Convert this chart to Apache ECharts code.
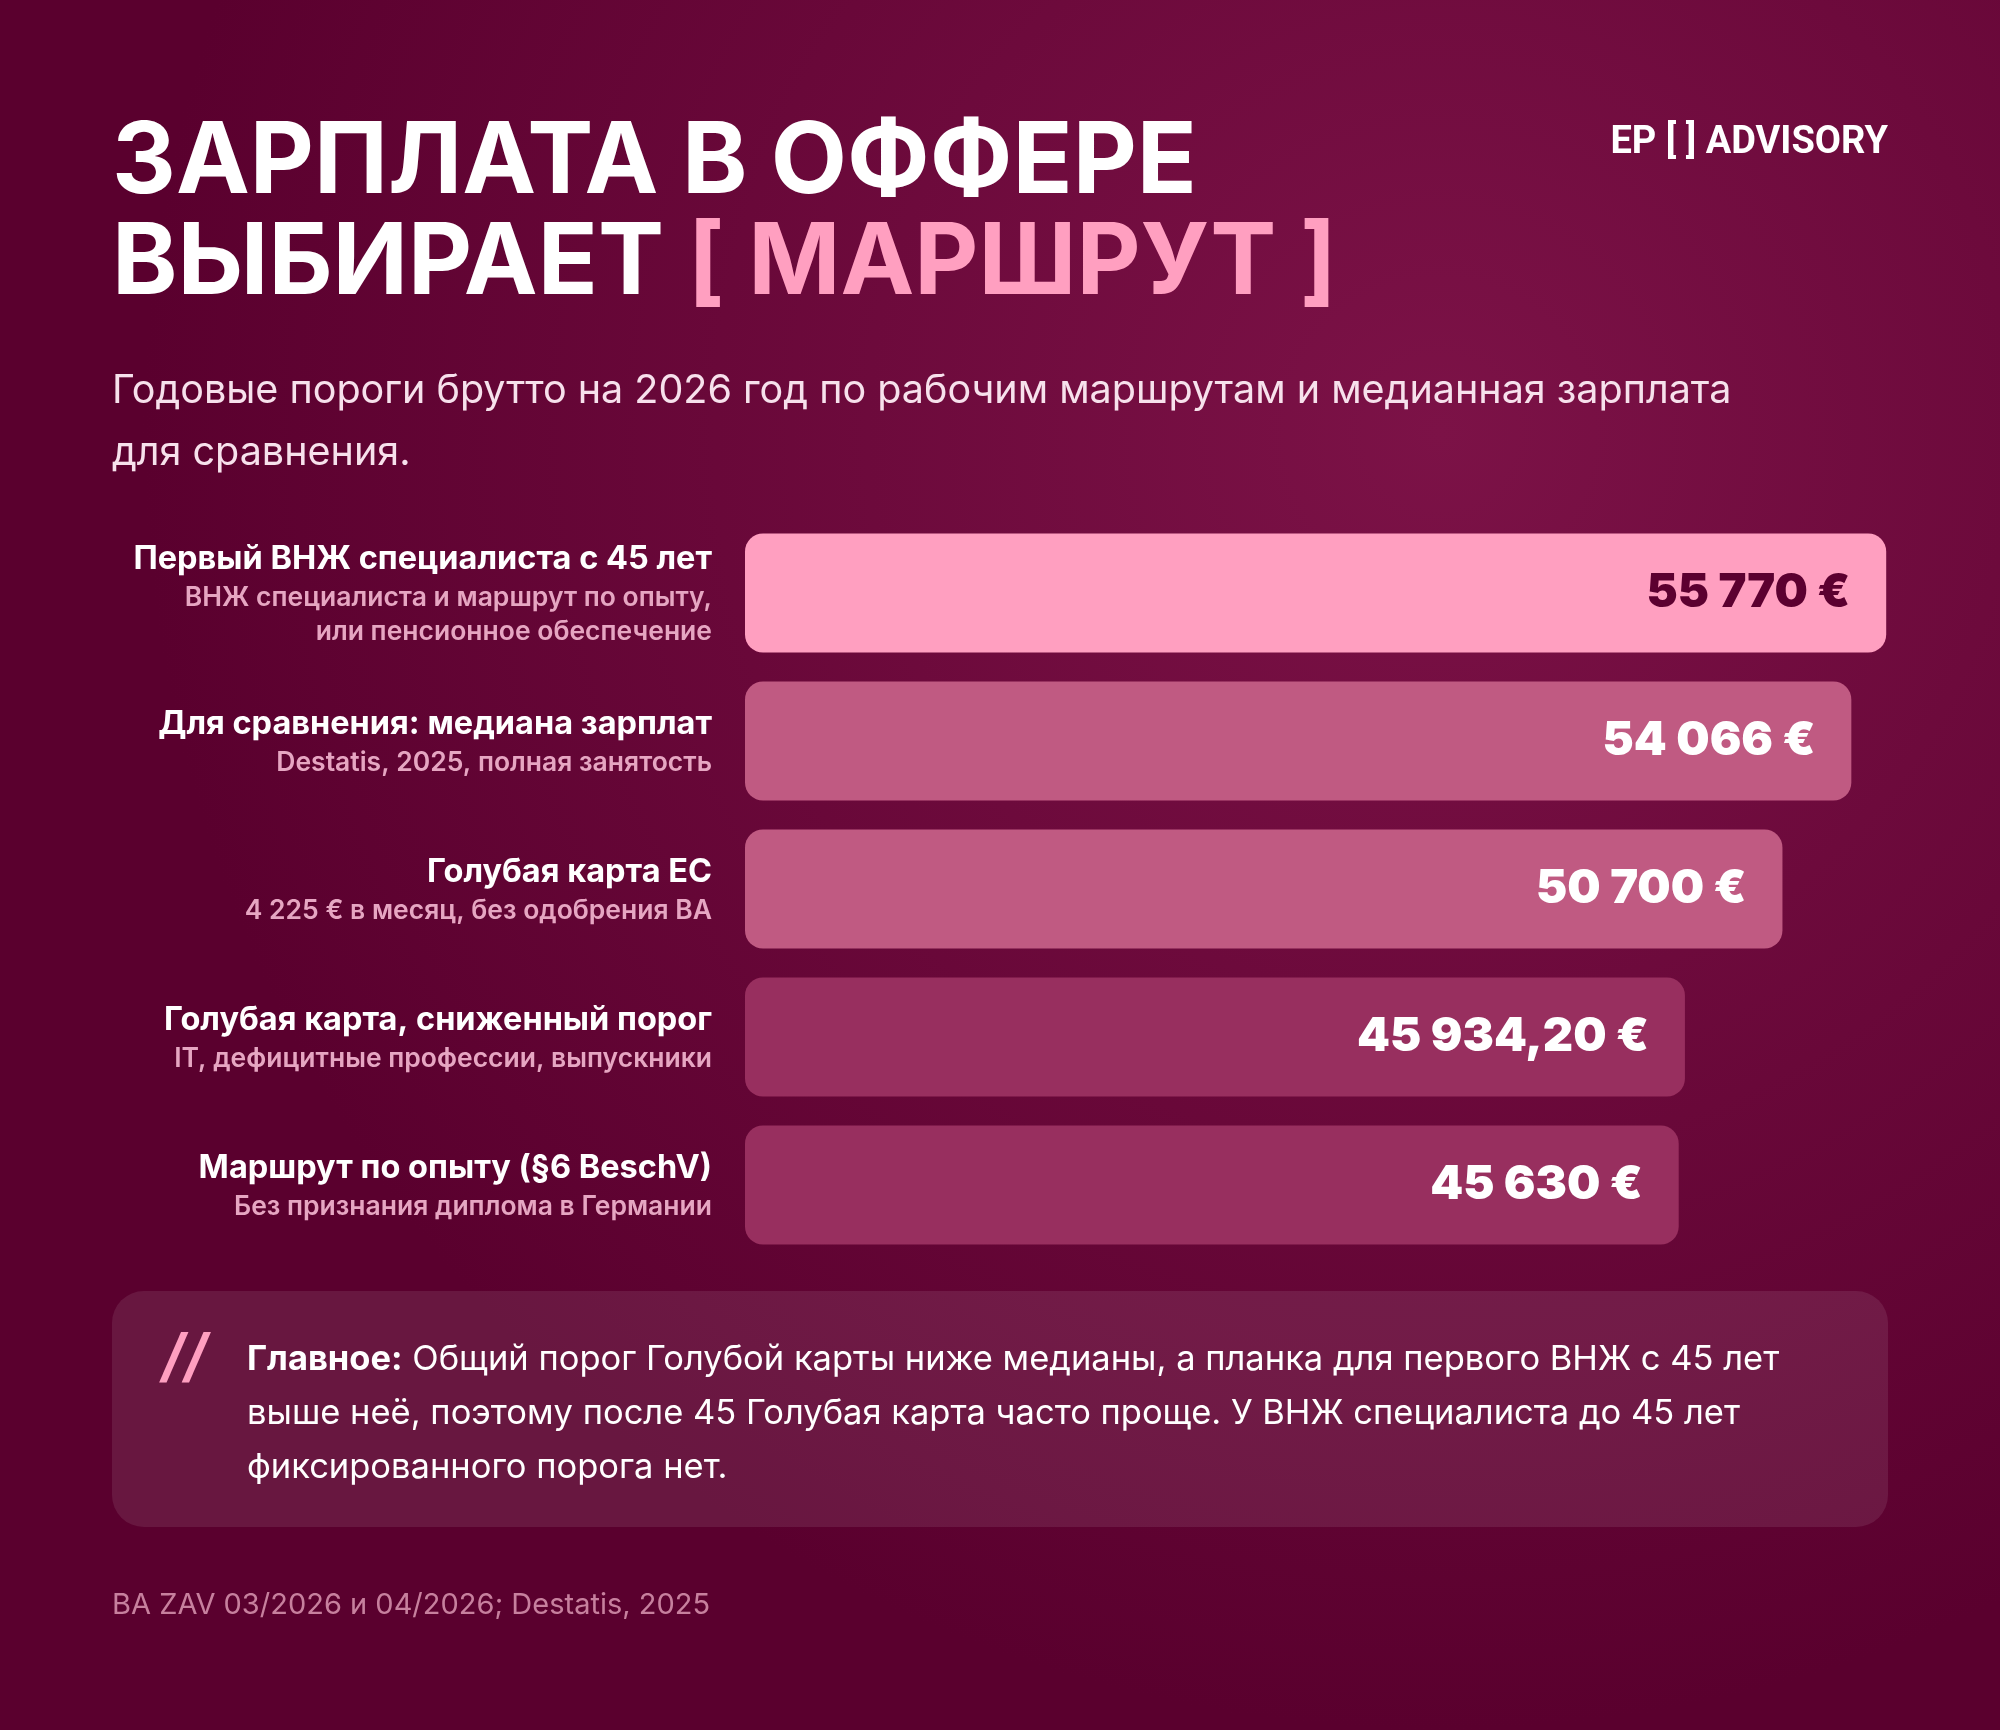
<!DOCTYPE html>
<html><head><meta charset="utf-8">
<script src="https://cdn.jsdelivr.net/npm/echarts@6/dist/echarts.min.js"></script>
<style>html,body{margin:0;padding:0;background:#5c0030}#c{width:2000px;height:1730px}</style>
</head><body><div id="c"></div>
<script>
// данные
var categories = ['Первый ВНЖ специалиста с 45 лет', 'Для сравнения: медиана зарплат', 'Голубая карта ЕС', 'Голубая карта, сниженный порог', 'Маршрут по опыту (§6 BeschV)'];
var subtitles = ['ВНЖ специалиста и маршрут по опыту,\nили пенсионное обеспечение', 'Destatis, 2025, полная занятость', '4 225 € в месяц, без одобрения BA', 'IT, дефицитные профессии, выпускники', 'Без признания диплома в Германии'];
var values = [55770, 54066, 50700, 45934.2, 45630];
var valueLabels = ['55 770 €', '54 066 €', '50 700 €', '45 934,20 €', '45 630 €'];
var barColors = ['#ff9fc0', '#c05a82', '#c05a82', '#982f5f', '#982f5f'];
var labelColors = ['#5c0030', '#ffffff', '#ffffff', '#ffffff', '#ffffff'];

var chart = echarts.init(document.getElementById('c'));
var F = 'Inter, "Noto Sans", sans-serif';

chart.setOption({
	backgroundColor: {
		type: 'radial', x: 0.72, y: 0.25, r: 0.75,
		colorStops: [{offset: 0, color: '#7c1247'}, {offset: 1, color: '#5a002e'}]
	},
	grid: {left: 745, top: 519, width: 1150, height: 740},
	xAxis: {type: 'value', min: 0, max: 56200, show: false},
	yAxis: {
		type: 'category', inverse: true, data: categories,
		axisLine: {show: false}, axisTick: {show: false},
		axisLabel: {
			margin: 33, align: 'right',
			formatter: function (v, i) { return '{t|' + v + '}\n{s|' + subtitles[i] + '}'; },
			rich: {
				t: {fontFamily: F, fontSize: 32.5, fontWeight: 'bold', color: '#ffffff', lineHeight: 44, align: 'right'},
				s: {fontFamily: F, fontSize: 26.5, fontWeight: 600, color: '#e6a6c2', lineHeight: 34, align: 'right'}
			}
		}
	},
	series: [{
		type: 'bar', barWidth: 119,
		data: values.map(function (v, i) {
			return {value: v, itemStyle: {color: barColors[i]},
				label: {color: labelColors[i]}};
		}),
		itemStyle: {borderRadius: 18},
		label: {
			show: true, position: 'insideRight', distance: 36,
			fontFamily: F, fontSize: 47, fontWeight: 900,
			formatter: function (p) { return valueLabels[p.dataIndex]; }
		}
	}],
	graphic: [
		{type: 'text', left: 112, top: 114, style: {text: 'ЗАРПЛАТА В ОФФЕРЕ', font: 'bold 99px ' + F, fill: '#ffffff'}},
		{type: 'text', left: 112, top: 215, style: {
			text: 'ВЫБИРАЕТ {p|[ МАРШРУТ ]}', font: 'bold 99px ' + F, fill: '#ffffff',
			rich: {p: {font: 'bold 99px ' + F, fill: '#ff9fc0', color: '#ff9fc0'}}
		}},
		{type: 'text', right: 112, top: 124, style: {
			text: 'EP {p|[ ]} ADVISORY', font: 'bold 38px Roboto, ' + F, fill: '#ffffff',
			rich: {p: {font: 'bold 38px Roboto', color: '#ff9fc0'}}
		}},
		{type: 'text', left: 112, top: 360, style: {
			text: 'Годовые пороги брутто на 2026 год по рабочим маршрутам и медианная зарплата\nдля сравнения.',
			font: '39.5px ' + F, fill: '#f7e1ec', lineHeight: 62
		}},
		{type: 'rect', left: 112, top: 1291, shape: {width: 1776, height: 236, r: 32}, style: {fill: 'rgba(255,255,255,0.09)'}},
		{type: 'text', left: 162, top: 1330, style: {text: '//', font: 'italic bold 58px ' + F, fill: '#ff9fc0'}},
		{type: 'text', left: 247, top: 1333, style: {
			text: '{b|Главное:} Общий порог Голубой карты ниже медианы, а планка для первого ВНЖ с 45 лет\nвыше неё, поэтому после 45 Голубая карта часто проще. У ВНЖ специалиста до 45 лет\nфиксированного порога нет.',
			font: '34.5px ' + F, fill: '#ffffff', lineHeight: 54,
			rich: {b: {font: 'bold 34.5px ' + F, color: '#ffffff', lineHeight: 54}}
		}},
		{type: 'text', left: 112, top: 1591, style: {text: 'BA ZAV 03/2026 и 04/2026; Destatis, 2025', font: '29px ' + F, fill: '#c7809e'}}
	]
});
</script></body></html>
